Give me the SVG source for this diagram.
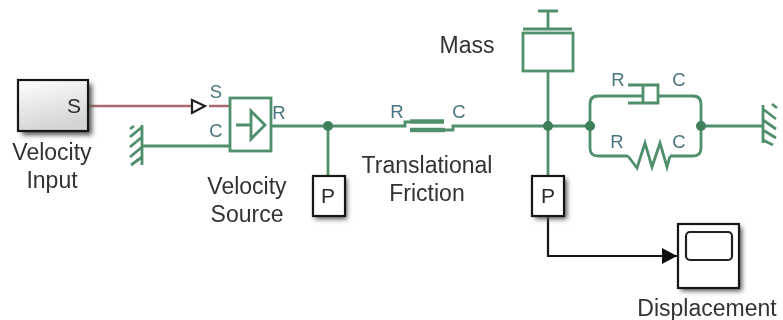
<svg xmlns="http://www.w3.org/2000/svg" width="783" height="320" viewBox="0 0 783 320">
<defs>
<linearGradient id="grad" x1="0" y1="0" x2="0.3" y2="1"><stop offset="0" stop-color="#ffffff"/><stop offset="1" stop-color="#d4d4d4"/></linearGradient>
<filter id="shadow" filterUnits="userSpaceOnUse" x="0" y="0" width="783" height="320"><feGaussianBlur stdDeviation="2.5"/></filter>
<filter id="soft" filterUnits="userSpaceOnUse" x="0" y="0" width="783" height="320"><feGaussianBlur stdDeviation="0.55"/></filter>
<marker id="arrow" markerUnits="userSpaceOnUse" markerWidth="16" markerHeight="16" refX="15" refY="8" orient="auto"><path d="M0 0L15 8L0 16Z" fill="#111"/></marker>
</defs>
<style>
.g{fill:none;stroke:#4f8f6c;stroke-width:2.8}
.r{fill:none;stroke:#a8686c;stroke-width:2.4}
.k{fill:none;stroke:#161616;stroke-width:2.2}
.d{fill:#3f7f5c}
.b{fill:#fff;stroke:#161616;stroke-width:2.2}
.s{fill:#555;filter:url(#shadow)}
text{font-family:"Liberation Sans",Arial,sans-serif;font-size:23px;fill:#333;text-anchor:middle;filter:url(#soft)}
.p{font-size:18.5px;fill:#4a7480}
.in{font-size:21px;fill:#2a2a2a}
</style>
<g id="connectors" filter="url(#soft)">
<path class="r" d="M88 106H191M209 106H230"/>
<path class="g" d="M142 146H230M271 126H405V122H411M444 130H453V126H548M328 126V176M548 71V176M548 126H590M590 126V104Q590 96 598 96H643M658 96H693Q701 96 701 104V148Q701 156 693 156H670M628 156H598Q590 156 590 148V126M701 126H763"/>
<path class="k" d="M548 216V256H677" marker-end="url(#arrow)"/>
<path fill="#fff" stroke="#222" stroke-width="2.2" d="M192 100L205 106L192 113Z"/>
<circle class="d" cx="328" cy="126" r="5"/><circle class="d" cx="548" cy="126" r="5"/><circle class="d" cx="590" cy="126" r="5"/><circle class="d" cx="701" cy="126" r="5"/>
</g>
<g id="velocity-input">
<rect class="s" x="22" y="84" width="70" height="51"/>
<rect x="18" y="80" width="70" height="51" fill="url(#grad)" stroke="#161616" stroke-width="2.2"/>
<text x="74" y="113" class="in">S</text>
<text x="52" y="160">Velocity</text><text x="52" y="188">Input</text>
</g>
<g id="ground-left" filter="url(#soft)">
<path class="g" d="M142 125V165M142 127L130 137M142 137L130 147M142 147L130 157M142 157L131 165M130 129L134 126"/>
</g>
<g id="velocity-source">
<g filter="url(#soft)">
<rect class="g" x="230" y="98" width="41" height="53"/>
<path class="g" d="M236 125H251M251 111L265 125L251 139Z"/>
</g>
<text x="216" y="98" class="p">S</text><text x="216" y="137" class="p">C</text><text x="279" y="119" class="p">R</text>
<text x="247" y="194">Velocity</text><text x="247" y="222">Source</text>
</g>
<g id="position-sensor-1">
<rect class="s" x="315" y="179" width="32" height="40"/>
<rect class="b" x="313" y="176" width="32" height="40"/>
<text x="328" y="203" class="in">P</text>
</g>
<g id="translational-friction">
<g filter="url(#soft)">
<path class="g" d="M410 121.5H444" style="stroke-width:4.5"/>
<path class="g" d="M410 130H445" style="stroke-width:4.5"/>
</g>
<text x="397" y="118" class="p">R</text><text x="459" y="118" class="p">C</text>
<text x="427" y="173">Translational</text><text x="427" y="201">Friction</text>
</g>
<g id="mass">
<g filter="url(#soft)">
<rect class="g" x="523" y="33" width="50" height="38"/>
<path class="g" d="M523 29H572M548 29V11M538 11H558"/>
</g>
<text x="467" y="53">Mass</text>
</g>
<g id="position-sensor-2">
<rect class="s" x="535" y="179" width="32" height="40"/>
<rect class="b" x="532" y="176" width="32" height="40"/>
<text x="548" y="203" class="in">P</text>
</g>
<g id="damper">
<path class="g" filter="url(#soft)" d="M628 85H658V103H628M643 85V103"/>
<text x="618" y="86" class="p">R</text><text x="679" y="86" class="p">C</text>
</g>
<g id="spring">
<path class="g" filter="url(#soft)" d="M628 156L637 168L645 143L652 167L660 143L667 167L670 156"/>
<text x="617" y="148" class="p">R</text><text x="679" y="148" class="p">C</text>
</g>
<g id="ground-right" filter="url(#soft)">
<path class="g" d="M763 105V143M763 109L776 119M763 120L776 129M763 130L776 138M763 140L773 145M772 104L777 108"/>
</g>
<g id="displacement">
<rect class="s" x="681" y="227" width="61" height="64"/>
<rect class="b" x="678" y="224" width="61" height="64"/>
<rect x="686" y="232" width="46" height="28" rx="4" fill="#fff" stroke="#222" stroke-width="2.2"/>
<text x="707" y="316">Displacement</text>
</g>
</svg>
